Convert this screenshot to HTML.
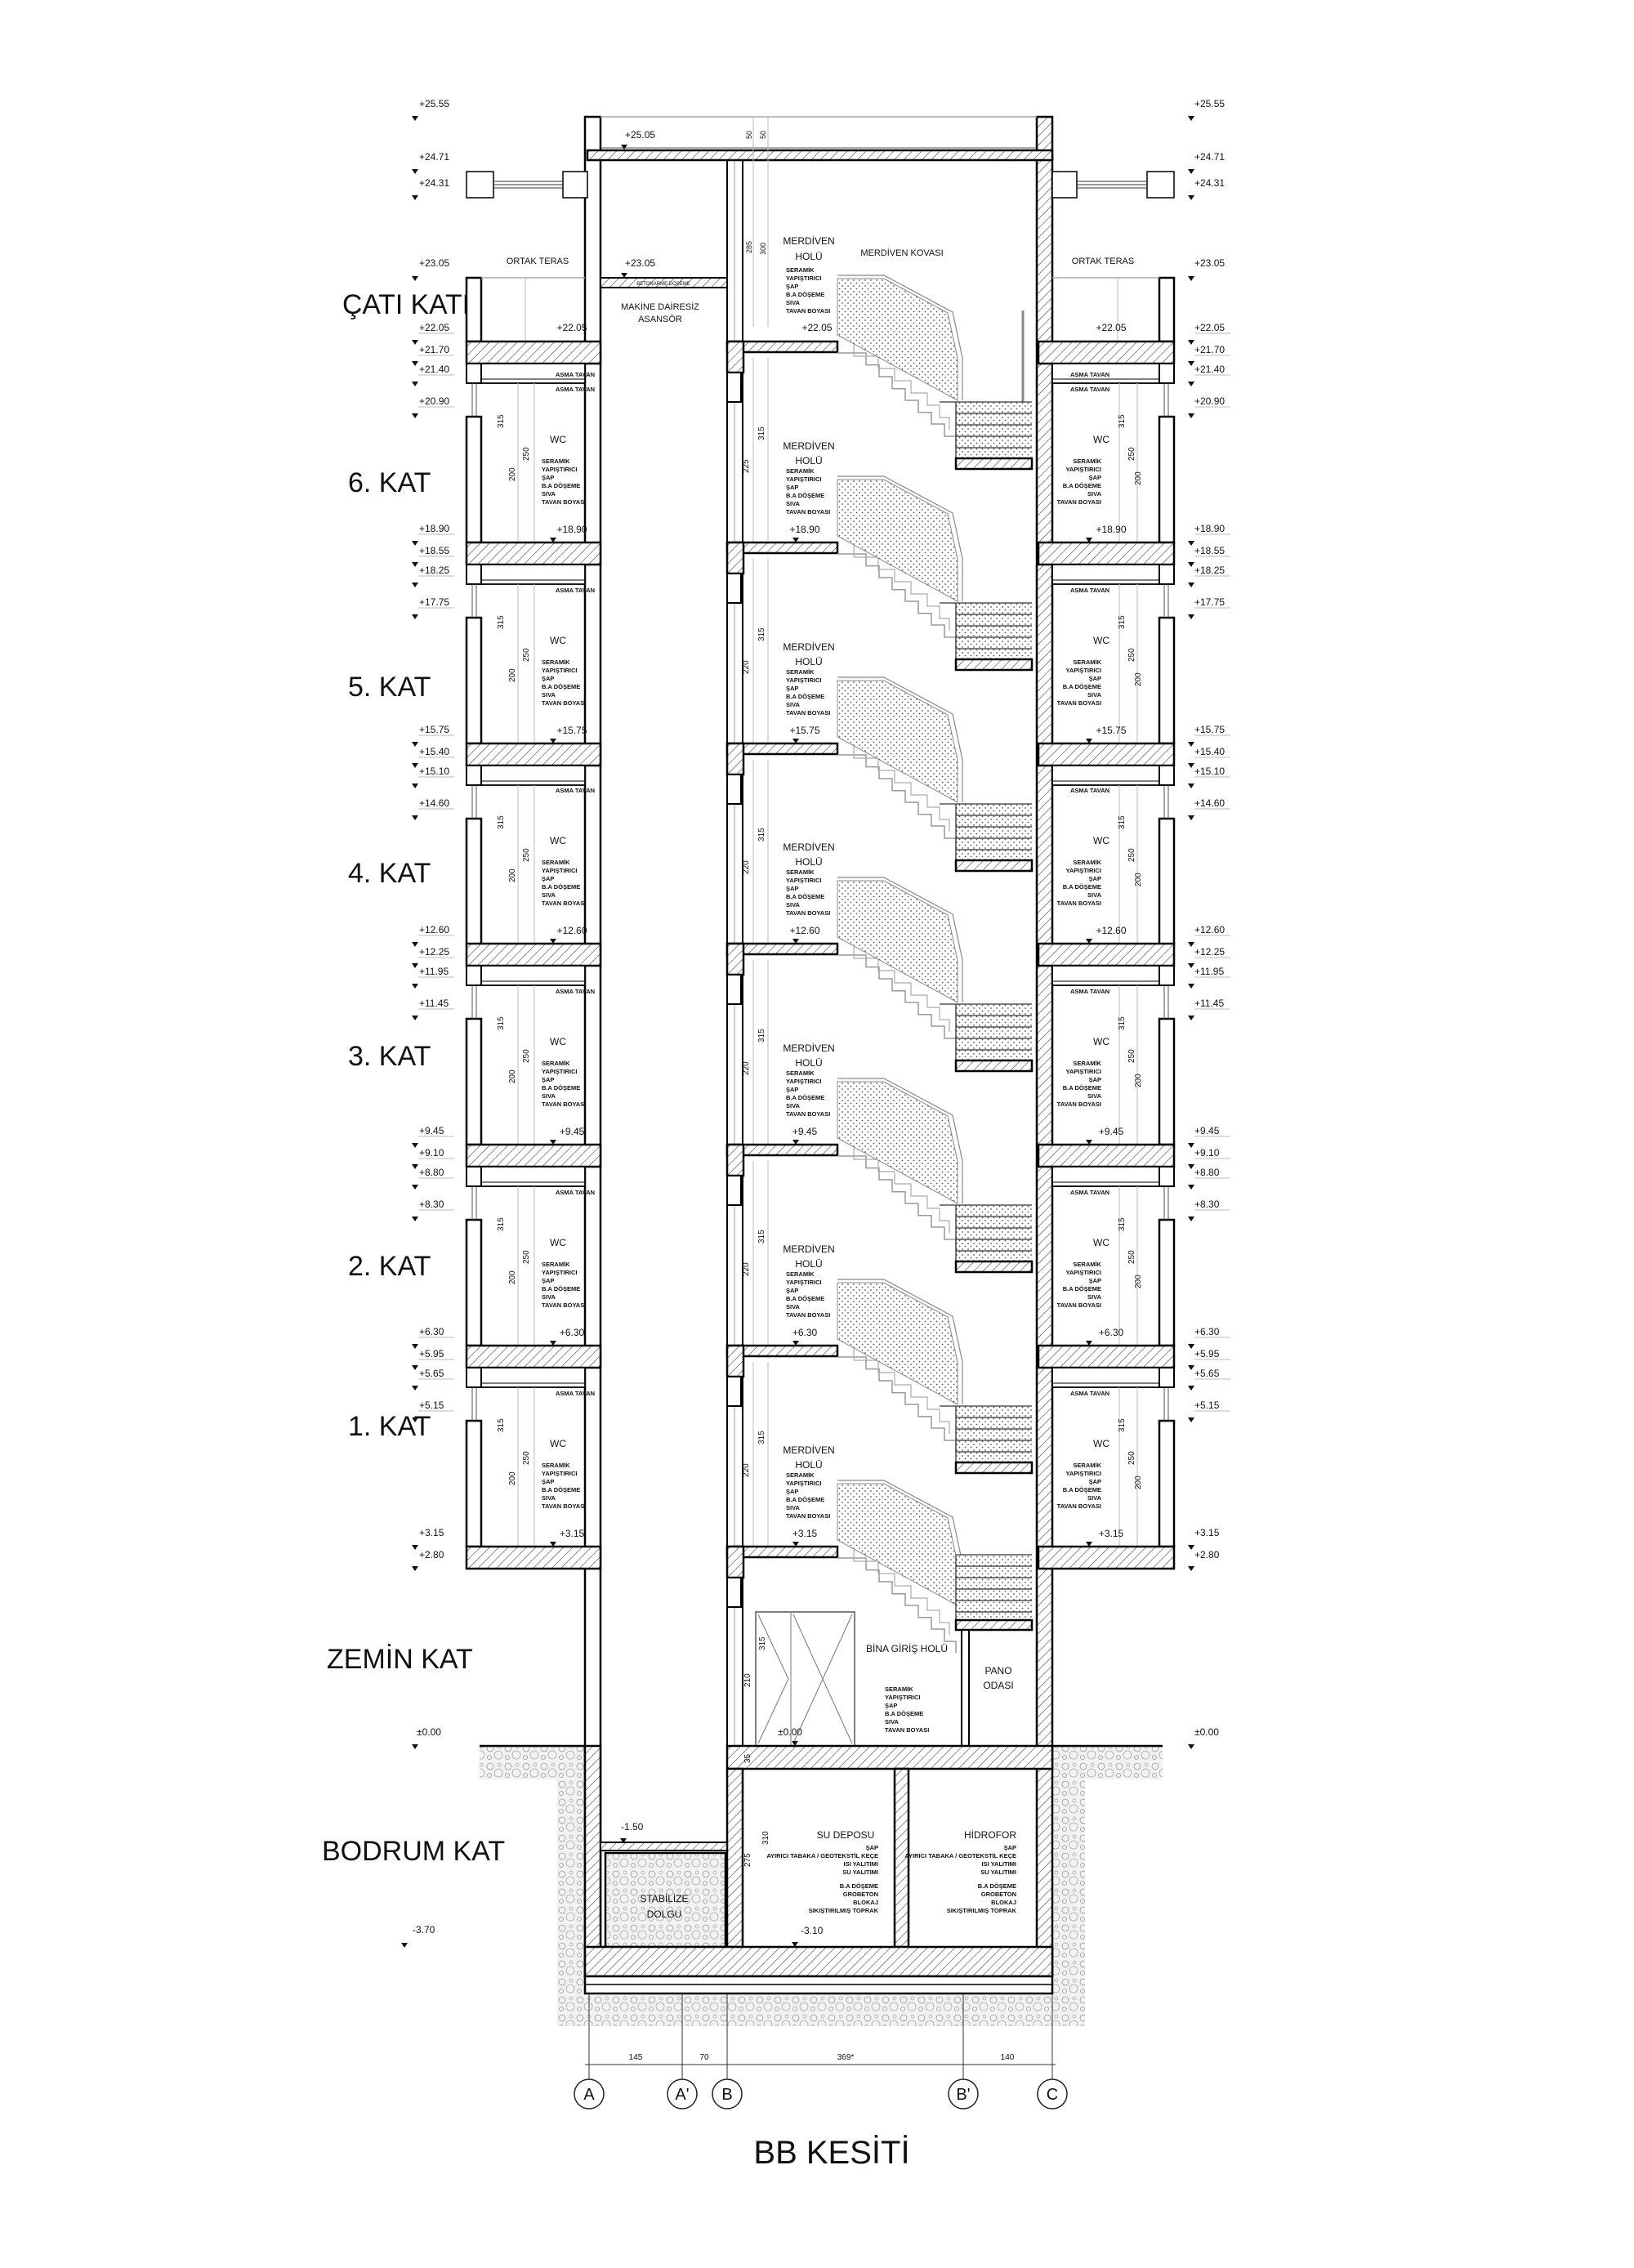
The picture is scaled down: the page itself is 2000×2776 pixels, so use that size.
<!DOCTYPE html>
<html><head><meta charset="utf-8"><style>
html,body{margin:0;padding:0;background:#fff}
svg{display:block}
text{font-family:"Liberation Sans",sans-serif;fill:#111}
.lv{font-size:12px}
.sm{font-size:7.5px;font-weight:bold}
.md{font-size:12px}
.big{font-size:34px}
</style></head><body>
<svg width="2000" height="2776" viewBox="0 0 2000 2776" xmlns="http://www.w3.org/2000/svg">
<defs>
<pattern id="h" width="8" height="8" patternUnits="userSpaceOnUse" patternTransform="rotate(45)"><rect width="8" height="8" fill="#fff"/><line x1="0" y1="0" x2="0" y2="8" stroke="#444" stroke-width="1.2"/></pattern>
<pattern id="dt" width="7" height="7" patternUnits="userSpaceOnUse"><rect width="7" height="7" fill="#fff"/><circle cx="2" cy="2" r="0.9" fill="#555"/><circle cx="5.5" cy="5.5" r="0.9" fill="#555"/></pattern>
<pattern id="soil" width="22" height="22" patternUnits="userSpaceOnUse"><rect width="22" height="22" fill="#f2f2f2"/><circle cx="6" cy="6" r="4" fill="none" stroke="#999" stroke-width="0.8"/><circle cx="16" cy="14" r="5" fill="none" stroke="#aaa" stroke-width="0.8"/><circle cx="5" cy="17" r="2.5" fill="none" stroke="#999" stroke-width="0.8"/><circle cx="17" cy="4" r="2" fill="none" stroke="#aaa" stroke-width="0.8"/></pattern>
<polygon id="tk" points="-4,0 4,0 0,6" fill="#111"/>
<g id="tks">
<use href="#tk" x="508" y="-2"/><use href="#tk" x="508" y="24"/><use href="#tk" x="508" y="49"/><use href="#tk" x="508" y="88"/>
<use href="#tk" x="1458" y="-2"/><use href="#tk" x="1458" y="24"/><use href="#tk" x="1458" y="49"/><use href="#tk" x="1458" y="88"/>
<path d="M512 -10H556M512 17H556M512 41H556M512 80H556M1462 -10H1506M1462 17H1506M1462 41H1506M1462 80H1506" stroke="#bbb" stroke-width="1"/>
</g>
<g id="dots">
<polygon points="1025,-77 1082,-77 1160,-35 1172,20 1172,72 1025,-8" fill="url(#dt)" stroke="#888" stroke-width="1"/>
<path d="M1082,-81 L1166,-36 L1178,20 L1178,72" fill="none" stroke="#888" stroke-width="1.2"/>
<line x1="1025" y1="-81" x2="1082" y2="-81" stroke="#888" stroke-width="1.2"/>
</g>
<g id="core">
<rect x="890" y="0" width="135" height="13" fill="url(#h)" stroke="#000" stroke-width="2.5"/>
<rect x="890" y="0" width="20" height="38" fill="url(#h)" stroke="#000" stroke-width="2.5"/>
<rect x="890" y="38" width="17" height="36" fill="#fff" stroke="#000" stroke-width="2"/>
<polyline points="1025,14 1060,14 1060,28.6 1076,28.6 1076,43 1092,43 1092,57.7 1108,57.7 1108,72 1124,72 1124,86.8 1140,86.8 1140,101 1156,101 1156,116 1170,116 1170,130" fill="none" stroke="#999" stroke-width="1.5"/>
<polyline points="1045,4 1045,18 1075,18 1075,33 1095,33 1095,48 1115,48 1115,63 1135,63 1135,78 1150,78 1150,93 1162,93 1162,108" fill="none" stroke="#aaa" stroke-width="1.2"/>
</g>
<g id="fl">
<rect x="571" y="0" width="164" height="27" fill="url(#h)" stroke="#000" stroke-width="2.5"/>
<rect x="1271" y="0" width="166" height="27" fill="url(#h)" stroke="#000" stroke-width="2.5"/>
<rect x="589" y="27" width="127" height="24" fill="#fff" stroke="#000" stroke-width="1.8"/>
<line x1="589" y1="46" x2="716" y2="46" stroke="#000" stroke-width="1"/>
<rect x="571" y="27" width="18" height="24" fill="#fff" stroke="#000" stroke-width="2"/>
<rect x="571" y="92" width="18" height="154" fill="#fff" stroke="#000" stroke-width="2.5"/>
<path d="M578 51V92M583 51V92" stroke="#555" stroke-width="1"/>
<rect x="1288" y="27" width="131" height="24" fill="#fff" stroke="#000" stroke-width="1.8"/>
<line x1="1288" y1="46" x2="1419" y2="46" stroke="#000" stroke-width="1"/>
<rect x="1419" y="27" width="18" height="24" fill="#fff" stroke="#000" stroke-width="2"/>
<rect x="1419" y="92" width="18" height="154" fill="#fff" stroke="#000" stroke-width="2.5"/>
<path d="M1425 51V92M1430 51V92" stroke="#555" stroke-width="1"/>
<path d="M634 51V246M654 51V246M1370 51V246M1392 51V246M922 20V246M940 20V246" stroke="#bbb" stroke-width="1"/>
<use href="#core"/>
<rect x="1170" y="74" width="93" height="69" fill="url(#dt)" stroke="none"/>
<path d="M1170 74H1263M1170 88H1263M1170 102H1263M1170 116H1263M1170 130H1263M1170 74V143M1150 74H1170" stroke="#333" stroke-width="1.3" fill="none"/>
<rect x="1170" y="143" width="93" height="13" fill="url(#h)" stroke="#000" stroke-width="2.5"/>
</g>
</defs>

<!-- soil -->
<path d="M587 2137H716V2440H1288V2137H1423V2178H1328V2480H682V2178H587Z" fill="url(#soil)" stroke="none"/>
<line x1="587" y1="2137" x2="716" y2="2137" stroke="#000" stroke-width="2.5"/>
<line x1="1288" y1="2137" x2="1423" y2="2137" stroke="#000" stroke-width="2.5"/>

<!-- core walls -->
<rect x="716" y="143" width="19" height="2276" fill="#fff" stroke="#000" stroke-width="2.5"/>
<rect x="716" y="2137" width="19" height="282" fill="url(#h)" stroke="#000" stroke-width="2.5"/>
<rect x="1269" y="143" width="19" height="2276" fill="url(#h)" stroke="#000" stroke-width="2.5"/>
<rect x="890" y="196" width="19" height="1941" fill="#fff" stroke="#000" stroke-width="2"/>
<line x1="899" y1="196" x2="899" y2="2137" stroke="#999" stroke-width="1"/>
<!-- roof -->
<rect x="719" y="184" width="569" height="12" fill="url(#h)" stroke="#000" stroke-width="2.5"/>
<line x1="735" y1="143" x2="1269" y2="143" stroke="#aaa" stroke-width="1.5"/>
<line x1="735" y1="181" x2="1269" y2="181" stroke="#555" stroke-width="1"/>
<rect x="735" y="340" width="155" height="12" fill="url(#h)" stroke="#000" stroke-width="2"/>
<text x="812" y="349" text-anchor="middle" style="font-size:6px">BETONARME DÖŞEME</text>
<!-- roof windows -->
<g fill="#fff" stroke="#000" stroke-width="1.5">
<rect x="571" y="210" width="33" height="32"/><rect x="689" y="210" width="30" height="32"/>
<rect x="1288" y="210" width="30" height="32"/><rect x="1404" y="210" width="33" height="32"/>
</g>
<path d="M604 222H689M604 226H689M604 230H689M1318 222H1404M1318 226H1404M1318 230H1404" stroke="#333" stroke-width="1"/>
<!-- terrace parapets -->
<rect x="571" y="340" width="18" height="78" fill="#fff" stroke="#000" stroke-width="2.5"/>
<rect x="1419" y="340" width="18" height="78" fill="#fff" stroke="#000" stroke-width="2.5"/>
<path d="M589 340H716M1288 340H1419" stroke="#aaa" stroke-width="1.5"/>
<path d="M643 340V418M1368 340V418M922 143V400M940 143V400" stroke="#bbb" stroke-width="1"/>
<g style="font-size:9px"><text transform="translate(920,170) rotate(-90)">50</text><text transform="translate(937,170) rotate(-90)">50</text><text transform="translate(920,310) rotate(-90)">285</text><text transform="translate(937,312) rotate(-90)">300</text></g>
<line x1="1252" y1="380" x2="1252" y2="560" stroke="#888" stroke-width="3"/>

<!-- floors -->
<use href="#fl" y="418"/>
<use href="#fl" y="664"/>
<use href="#fl" y="910"/>
<use href="#fl" y="1155"/>
<use href="#fl" y="1401"/>
<use href="#fl" y="1647"/>
<use href="#dots" y="418"/><use href="#dots" y="664"/><use href="#dots" y="910"/><use href="#dots" y="1155"/><use href="#dots" y="1401"/><use href="#dots" y="1647"/><use href="#dots" y="1893"/>
<!-- slab 6 (2.80) -->
<g transform="translate(0,1893)">
<rect x="571" y="0" width="164" height="27" fill="url(#h)" stroke="#000" stroke-width="2.5"/>
<rect x="1271" y="0" width="166" height="27" fill="url(#h)" stroke="#000" stroke-width="2.5"/>
<use href="#core"/>
<rect x="1170" y="10" width="93" height="80" fill="url(#dt)"/>
<path d="M1170 10H1263M1170 24H1263M1170 38H1263M1170 52H1263M1170 66H1263M1170 80H1263M1170 10V90" stroke="#333" stroke-width="1.3" fill="none"/>
<rect x="1170" y="90" width="93" height="12" fill="url(#h)" stroke="#000" stroke-width="2.5"/>
</g>
<!-- ground floor core -->
<rect x="1177" y="1995" width="9" height="142" fill="#fff" stroke="#000" stroke-width="2"/>
<rect x="925" y="1973" width="121" height="164" fill="none" stroke="#555" stroke-width="1.5"/>
<path d="M968 1973V2137M928 1976L965 2055L928 2134M1043 1976L971 2134M971 1976L1043 2134" stroke="#777" stroke-width="1" fill="none"/>
<rect x="890" y="2137" width="398" height="28" fill="url(#h)" stroke="#000" stroke-width="2.5"/>
<!-- basement -->
<rect x="890" y="2165" width="19" height="218" fill="url(#h)" stroke="#000" stroke-width="2.5"/>
<rect x="1095" y="2165" width="17" height="218" fill="url(#h)" stroke="#000" stroke-width="2.5"/>
<rect x="735" y="2255" width="155" height="10" fill="url(#h)" stroke="#000" stroke-width="2"/>
<rect x="741" y="2268" width="147" height="115" fill="url(#soil)" stroke="#000" stroke-width="2.5"/>
<rect x="716" y="2383" width="572" height="36" fill="url(#h)" stroke="#000" stroke-width="2.5"/>
<rect x="716" y="2419" width="572" height="21" fill="#fff" stroke="#000" stroke-width="2.5"/>
<line x1="716" y1="2429" x2="1288" y2="2429" stroke="#000" stroke-width="1.5"/>

<!-- level labels -->
<g class="lv">
<text x="513" y="131">+25.55</text><text x="1462" y="131">+25.55</text>
<text x="513" y="196">+24.71</text><text x="1462" y="196">+24.71</text>
<text x="513" y="228">+24.31</text><text x="1462" y="228">+24.31</text>
<text x="513" y="326">+23.05</text><text x="1462" y="326">+23.05</text>
<use href="#tk" x="508" y="142"/><use href="#tk" x="508" y="207"/><use href="#tk" x="508" y="239"/><use href="#tk" x="508" y="338"/>
<use href="#tk" x="1458" y="142"/><use href="#tk" x="1458" y="207"/><use href="#tk" x="1458" y="239"/><use href="#tk" x="1458" y="338"/>
<g transform="translate(0,418)"><use href="#tks"/><text x="513" y="-13">+22.05</text><text x="513" y="14">+21.70</text><text x="513" y="38">+21.40</text><text x="513" y="77">+20.90</text><text x="1462" y="-13">+22.05</text><text x="1462" y="14">+21.70</text><text x="1462" y="38">+21.40</text><text x="1462" y="77">+20.90</text></g>
<g transform="translate(0,664)"><use href="#tks"/><text x="513" y="-13">+18.90</text><text x="513" y="14">+18.55</text><text x="513" y="38">+18.25</text><text x="513" y="77">+17.75</text><text x="1462" y="-13">+18.90</text><text x="1462" y="14">+18.55</text><text x="1462" y="38">+18.25</text><text x="1462" y="77">+17.75</text></g>
<g transform="translate(0,910)"><use href="#tks"/><text x="513" y="-13">+15.75</text><text x="513" y="14">+15.40</text><text x="513" y="38">+15.10</text><text x="513" y="77">+14.60</text><text x="1462" y="-13">+15.75</text><text x="1462" y="14">+15.40</text><text x="1462" y="38">+15.10</text><text x="1462" y="77">+14.60</text></g>
<g transform="translate(0,1155)"><use href="#tks"/><text x="513" y="-13">+12.60</text><text x="513" y="14">+12.25</text><text x="513" y="38">+11.95</text><text x="513" y="77">+11.45</text><text x="1462" y="-13">+12.60</text><text x="1462" y="14">+12.25</text><text x="1462" y="38">+11.95</text><text x="1462" y="77">+11.45</text></g>
<g transform="translate(0,1401)"><use href="#tks"/><text x="513" y="-13">+9.45</text><text x="513" y="14">+9.10</text><text x="513" y="38">+8.80</text><text x="513" y="77">+8.30</text><text x="1462" y="-13">+9.45</text><text x="1462" y="14">+9.10</text><text x="1462" y="38">+8.80</text><text x="1462" y="77">+8.30</text></g>
<g transform="translate(0,1647)"><use href="#tks"/><text x="513" y="-13">+6.30</text><text x="513" y="14">+5.95</text><text x="513" y="38">+5.65</text><text x="513" y="77">+5.15</text><text x="1462" y="-13">+6.30</text><text x="1462" y="14">+5.95</text><text x="1462" y="38">+5.65</text><text x="1462" y="77">+5.15</text></g>
<g transform="translate(0,1893)"><text x="513" y="-13">+3.15</text><text x="513" y="14">+2.80</text><text x="1462" y="-13">+3.15</text><text x="1462" y="14">+2.80</text>
<use href="#tk" x="508" y="-2"/><use href="#tk" x="508" y="24"/><use href="#tk" x="1458" y="-2"/><use href="#tk" x="1458" y="24"/></g>
<text x="510" y="2124">±0.00</text><text x="1462" y="2124">±0.00</text>
<use href="#tk" x="508" y="2135"/><use href="#tk" x="1458" y="2135"/>
<text x="505" y="2366">-3.70</text><use href="#tk" x="495" y="2378"/>
<text x="760" y="2240">-1.50</text><use href="#tk" x="763" y="2250"/>
<text x="980" y="2367">-3.10</text><use href="#tk" x="973" y="2377"/>
<text x="952" y="2124">±0.00</text><use href="#tk" x="973" y="2131"/>
<text x="765" y="169">+25.05</text><use href="#tk" x="764" y="177"/>
<text x="765" y="326">+23.05</text><use href="#tk" x="764" y="334"/>
</g>

<!-- floor names -->
<g class="big">
<text x="419" y="384" textLength="156" lengthAdjust="spacingAndGlyphs">ÇATI KATI</text>
<text x="426" y="602">6. KAT</text>
<text x="426" y="852">5. KAT</text>
<text x="426" y="1080">4. KAT</text>
<text x="426" y="1304">3. KAT</text>
<text x="426" y="1561">2. KAT</text>
<text x="426" y="1757">1. KAT</text>
<text x="400" y="2042">ZEMİN KAT</text>
<text x="394" y="2277">BODRUM KAT</text>
</g>
<text x="1018" y="2648" text-anchor="middle" style="font-size:40px">BB KESİTİ</text>

<!-- top texts -->
<g class="md">
<text x="658" y="323" text-anchor="middle" style="font-size:11px">ORTAK TERAS</text>
<text x="1350" y="323" text-anchor="middle" style="font-size:11px">ORTAK TERAS</text>
<text x="808" y="379" text-anchor="middle" style="font-size:11px">MAKİNE DAİRESİZ</text>
<text x="808" y="394" text-anchor="middle" style="font-size:11px">ASANSÖR</text>
<text x="1104" y="313" text-anchor="middle" style="font-size:11px">MERDİVEN KOVASI</text>
<text x="990" y="299" text-anchor="middle">MERDİVEN</text>
<text x="990" y="318" text-anchor="middle">HOLÜ</text>
<text x="700" y="405" text-anchor="middle">+22.05</text>
<text x="1000" y="405" text-anchor="middle">+22.05</text>
<text x="1360" y="405" text-anchor="middle">+22.05</text>
</g>
<g class="sm">
<text x="962" y="333">SERAMİK</text><text x="962" y="343">YAPIŞTIRICI</text><text x="962" y="353">ŞAP</text><text x="962" y="363">B.A DÖŞEME</text><text x="962" y="373">SIVA</text><text x="962" y="383">TAVAN BOYASI</text>
<text x="680" y="461">ASMA TAVAN</text><text x="1310" y="461">ASMA TAVAN</text>
</g>

<!-- per floor texts -->
<g transform="translate(0,664)">
<text x="673" y="-122" class="md">WC</text>
<text x="1338" y="-122" class="md">WC</text>
<text x="990" y="-114" class="md" text-anchor="middle">MERDİVEN</text>
<text x="990" y="-96" class="md" text-anchor="middle">HOLÜ</text>
<g class="sm"><text x="663" y="-97">SERAMİK</text><text x="663" y="-87">YAPIŞTIRICI</text><text x="663" y="-77">ŞAP</text><text x="663" y="-67">B.A DÖŞEME</text><text x="663" y="-57">SIVA</text><text x="663" y="-47">TAVAN BOYASI</text>
<g text-anchor="end"><text x="1348" y="-97">SERAMİK</text><text x="1348" y="-87">YAPIŞTIRICI</text><text x="1348" y="-77">ŞAP</text><text x="1348" y="-67">B.A DÖŞEME</text><text x="1348" y="-57">SIVA</text><text x="1348" y="-47">TAVAN BOYASI</text></g>
<text x="962" y="-85">SERAMİK</text><text x="962" y="-75">YAPIŞTIRICI</text><text x="962" y="-65">ŞAP</text><text x="962" y="-55">B.A DÖŞEME</text><text x="962" y="-45">SIVA</text><text x="962" y="-35">TAVAN BOYASI</text>
<text x="680" y="-185">ASMA TAVAN</text><text x="1310" y="-185">ASMA TAVAN</text></g>
<text x="700" y="-12" class="md" text-anchor="middle">+18.90</text><text x="985" y="-12" class="md" text-anchor="middle">+18.90</text><text x="1360" y="-12" class="md" text-anchor="middle">+18.90</text>
<g style="font-size:10px"><text transform="translate(616,-140) rotate(-90)">315</text><text transform="translate(647,-100) rotate(-90)">250</text><text transform="translate(630,-75) rotate(-90)">200</text><text transform="translate(1376,-140) rotate(-90)">315</text><text transform="translate(1388,-100) rotate(-90)">250</text><text transform="translate(1396,-70) rotate(-90)">200</text><text transform="translate(935,-125) rotate(-90)">315</text><text transform="translate(916,-85) rotate(-90)">225</text></g>
<use href="#tk" x="677" y="-6"/><use href="#tk" x="974" y="-6"/><use href="#tk" x="1333" y="-6"/>
</g>
<g transform="translate(0,910)">
<text x="673" y="-122" class="md">WC</text><text x="1338" y="-122" class="md">WC</text>
<text x="990" y="-114" class="md" text-anchor="middle">MERDİVEN</text><text x="990" y="-96" class="md" text-anchor="middle">HOLÜ</text>
<g class="sm"><text x="663" y="-97">SERAMİK</text><text x="663" y="-87">YAPIŞTIRICI</text><text x="663" y="-77">ŞAP</text><text x="663" y="-67">B.A DÖŞEME</text><text x="663" y="-57">SIVA</text><text x="663" y="-47">TAVAN BOYASI</text>
<g text-anchor="end"><text x="1348" y="-97">SERAMİK</text><text x="1348" y="-87">YAPIŞTIRICI</text><text x="1348" y="-77">ŞAP</text><text x="1348" y="-67">B.A DÖŞEME</text><text x="1348" y="-57">SIVA</text><text x="1348" y="-47">TAVAN BOYASI</text></g>
<text x="962" y="-85">SERAMİK</text><text x="962" y="-75">YAPIŞTIRICI</text><text x="962" y="-65">ŞAP</text><text x="962" y="-55">B.A DÖŞEME</text><text x="962" y="-45">SIVA</text><text x="962" y="-35">TAVAN BOYASI</text>
<text x="680" y="-185">ASMA TAVAN</text><text x="1310" y="-185">ASMA TAVAN</text></g>
<text x="700" y="-12" class="md" text-anchor="middle">+15.75</text><text x="985" y="-12" class="md" text-anchor="middle">+15.75</text><text x="1360" y="-12" class="md" text-anchor="middle">+15.75</text>
<g style="font-size:10px"><text transform="translate(616,-140) rotate(-90)">315</text><text transform="translate(647,-100) rotate(-90)">250</text><text transform="translate(630,-75) rotate(-90)">200</text><text transform="translate(1376,-140) rotate(-90)">315</text><text transform="translate(1388,-100) rotate(-90)">250</text><text transform="translate(1396,-70) rotate(-90)">200</text><text transform="translate(935,-125) rotate(-90)">315</text><text transform="translate(916,-85) rotate(-90)">220</text></g>
<use href="#tk" x="677" y="-6"/><use href="#tk" x="974" y="-6"/><use href="#tk" x="1333" y="-6"/>
</g>
<g transform="translate(0,1155)">
<text x="673" y="-122" class="md">WC</text><text x="1338" y="-122" class="md">WC</text>
<text x="990" y="-114" class="md" text-anchor="middle">MERDİVEN</text><text x="990" y="-96" class="md" text-anchor="middle">HOLÜ</text>
<g class="sm"><text x="663" y="-97">SERAMİK</text><text x="663" y="-87">YAPIŞTIRICI</text><text x="663" y="-77">ŞAP</text><text x="663" y="-67">B.A DÖŞEME</text><text x="663" y="-57">SIVA</text><text x="663" y="-47">TAVAN BOYASI</text>
<g text-anchor="end"><text x="1348" y="-97">SERAMİK</text><text x="1348" y="-87">YAPIŞTIRICI</text><text x="1348" y="-77">ŞAP</text><text x="1348" y="-67">B.A DÖŞEME</text><text x="1348" y="-57">SIVA</text><text x="1348" y="-47">TAVAN BOYASI</text></g>
<text x="962" y="-85">SERAMİK</text><text x="962" y="-75">YAPIŞTIRICI</text><text x="962" y="-65">ŞAP</text><text x="962" y="-55">B.A DÖŞEME</text><text x="962" y="-45">SIVA</text><text x="962" y="-35">TAVAN BOYASI</text>
<text x="680" y="-185">ASMA TAVAN</text><text x="1310" y="-185">ASMA TAVAN</text></g>
<text x="700" y="-12" class="md" text-anchor="middle">+12.60</text><text x="985" y="-12" class="md" text-anchor="middle">+12.60</text><text x="1360" y="-12" class="md" text-anchor="middle">+12.60</text>
<g style="font-size:10px"><text transform="translate(616,-140) rotate(-90)">315</text><text transform="translate(647,-100) rotate(-90)">250</text><text transform="translate(630,-75) rotate(-90)">200</text><text transform="translate(1376,-140) rotate(-90)">315</text><text transform="translate(1388,-100) rotate(-90)">250</text><text transform="translate(1396,-70) rotate(-90)">200</text><text transform="translate(935,-125) rotate(-90)">315</text><text transform="translate(916,-85) rotate(-90)">220</text></g>
<use href="#tk" x="677" y="-6"/><use href="#tk" x="974" y="-6"/><use href="#tk" x="1333" y="-6"/>
</g>
<g transform="translate(0,1401)">
<text x="673" y="-122" class="md">WC</text><text x="1338" y="-122" class="md">WC</text>
<text x="990" y="-114" class="md" text-anchor="middle">MERDİVEN</text><text x="990" y="-96" class="md" text-anchor="middle">HOLÜ</text>
<g class="sm"><text x="663" y="-97">SERAMİK</text><text x="663" y="-87">YAPIŞTIRICI</text><text x="663" y="-77">ŞAP</text><text x="663" y="-67">B.A DÖŞEME</text><text x="663" y="-57">SIVA</text><text x="663" y="-47">TAVAN BOYASI</text>
<g text-anchor="end"><text x="1348" y="-97">SERAMİK</text><text x="1348" y="-87">YAPIŞTIRICI</text><text x="1348" y="-77">ŞAP</text><text x="1348" y="-67">B.A DÖŞEME</text><text x="1348" y="-57">SIVA</text><text x="1348" y="-47">TAVAN BOYASI</text></g>
<text x="962" y="-85">SERAMİK</text><text x="962" y="-75">YAPIŞTIRICI</text><text x="962" y="-65">ŞAP</text><text x="962" y="-55">B.A DÖŞEME</text><text x="962" y="-45">SIVA</text><text x="962" y="-35">TAVAN BOYASI</text>
<text x="680" y="-185">ASMA TAVAN</text><text x="1310" y="-185">ASMA TAVAN</text></g>
<text x="700" y="-12" class="md" text-anchor="middle">+9.45</text><text x="985" y="-12" class="md" text-anchor="middle">+9.45</text><text x="1360" y="-12" class="md" text-anchor="middle">+9.45</text>
<g style="font-size:10px"><text transform="translate(616,-140) rotate(-90)">315</text><text transform="translate(647,-100) rotate(-90)">250</text><text transform="translate(630,-75) rotate(-90)">200</text><text transform="translate(1376,-140) rotate(-90)">315</text><text transform="translate(1388,-100) rotate(-90)">250</text><text transform="translate(1396,-70) rotate(-90)">200</text><text transform="translate(935,-125) rotate(-90)">315</text><text transform="translate(916,-85) rotate(-90)">220</text></g>
<use href="#tk" x="677" y="-6"/><use href="#tk" x="974" y="-6"/><use href="#tk" x="1333" y="-6"/>
</g>
<g transform="translate(0,1647)">
<text x="673" y="-122" class="md">WC</text><text x="1338" y="-122" class="md">WC</text>
<text x="990" y="-114" class="md" text-anchor="middle">MERDİVEN</text><text x="990" y="-96" class="md" text-anchor="middle">HOLÜ</text>
<g class="sm"><text x="663" y="-97">SERAMİK</text><text x="663" y="-87">YAPIŞTIRICI</text><text x="663" y="-77">ŞAP</text><text x="663" y="-67">B.A DÖŞEME</text><text x="663" y="-57">SIVA</text><text x="663" y="-47">TAVAN BOYASI</text>
<g text-anchor="end"><text x="1348" y="-97">SERAMİK</text><text x="1348" y="-87">YAPIŞTIRICI</text><text x="1348" y="-77">ŞAP</text><text x="1348" y="-67">B.A DÖŞEME</text><text x="1348" y="-57">SIVA</text><text x="1348" y="-47">TAVAN BOYASI</text></g>
<text x="962" y="-85">SERAMİK</text><text x="962" y="-75">YAPIŞTIRICI</text><text x="962" y="-65">ŞAP</text><text x="962" y="-55">B.A DÖŞEME</text><text x="962" y="-45">SIVA</text><text x="962" y="-35">TAVAN BOYASI</text>
<text x="680" y="-185">ASMA TAVAN</text><text x="1310" y="-185">ASMA TAVAN</text></g>
<text x="700" y="-12" class="md" text-anchor="middle">+6.30</text><text x="985" y="-12" class="md" text-anchor="middle">+6.30</text><text x="1360" y="-12" class="md" text-anchor="middle">+6.30</text>
<g style="font-size:10px"><text transform="translate(616,-140) rotate(-90)">315</text><text transform="translate(647,-100) rotate(-90)">250</text><text transform="translate(630,-75) rotate(-90)">200</text><text transform="translate(1376,-140) rotate(-90)">315</text><text transform="translate(1388,-100) rotate(-90)">250</text><text transform="translate(1396,-70) rotate(-90)">200</text><text transform="translate(935,-125) rotate(-90)">315</text><text transform="translate(916,-85) rotate(-90)">220</text></g>
<use href="#tk" x="677" y="-6"/><use href="#tk" x="974" y="-6"/><use href="#tk" x="1333" y="-6"/>
</g>
<g transform="translate(0,1893)">
<text x="673" y="-122" class="md">WC</text><text x="1338" y="-122" class="md">WC</text>
<text x="990" y="-114" class="md" text-anchor="middle">MERDİVEN</text><text x="990" y="-96" class="md" text-anchor="middle">HOLÜ</text>
<g class="sm"><text x="663" y="-97">SERAMİK</text><text x="663" y="-87">YAPIŞTIRICI</text><text x="663" y="-77">ŞAP</text><text x="663" y="-67">B.A DÖŞEME</text><text x="663" y="-57">SIVA</text><text x="663" y="-47">TAVAN BOYASI</text>
<g text-anchor="end"><text x="1348" y="-97">SERAMİK</text><text x="1348" y="-87">YAPIŞTIRICI</text><text x="1348" y="-77">ŞAP</text><text x="1348" y="-67">B.A DÖŞEME</text><text x="1348" y="-57">SIVA</text><text x="1348" y="-47">TAVAN BOYASI</text></g>
<text x="962" y="-85">SERAMİK</text><text x="962" y="-75">YAPIŞTIRICI</text><text x="962" y="-65">ŞAP</text><text x="962" y="-55">B.A DÖŞEME</text><text x="962" y="-45">SIVA</text><text x="962" y="-35">TAVAN BOYASI</text>
<text x="680" y="-185">ASMA TAVAN</text><text x="1310" y="-185">ASMA TAVAN</text></g>
<text x="700" y="-12" class="md" text-anchor="middle">+3.15</text><text x="985" y="-12" class="md" text-anchor="middle">+3.15</text><text x="1360" y="-12" class="md" text-anchor="middle">+3.15</text>
<g style="font-size:10px"><text transform="translate(616,-140) rotate(-90)">315</text><text transform="translate(647,-100) rotate(-90)">250</text><text transform="translate(630,-75) rotate(-90)">200</text><text transform="translate(1376,-140) rotate(-90)">315</text><text transform="translate(1388,-100) rotate(-90)">250</text><text transform="translate(1396,-70) rotate(-90)">200</text><text transform="translate(935,-125) rotate(-90)">315</text><text transform="translate(916,-85) rotate(-90)">220</text></g>
<use href="#tk" x="677" y="-6"/><use href="#tk" x="974" y="-6"/><use href="#tk" x="1333" y="-6"/>
</g>

<!-- ground floor & basement texts -->
<text x="1110" y="2022" class="md" text-anchor="middle">BİNA GİRİŞ HOLÜ</text>
<text x="1222" y="2049" class="md" text-anchor="middle">PANO</text>
<text x="1222" y="2067" class="md" text-anchor="middle">ODASI</text>
<g class="sm"><text x="1083" y="2070">SERAMİK</text><text x="1083" y="2080">YAPIŞTIRICI</text><text x="1083" y="2090">ŞAP</text><text x="1083" y="2100">B.A DÖŞEME</text><text x="1083" y="2110">SIVA</text><text x="1083" y="2120">TAVAN BOYASI</text></g>
<g style="font-size:10px"><text transform="translate(936,2020) rotate(-90)">315</text><text transform="translate(918,2065) rotate(-90)">210</text><text transform="translate(918,2158) rotate(-90)">35</text><text transform="translate(918,2285) rotate(-90)">275</text><text transform="translate(940,2258) rotate(-90)">310</text></g>
<text x="1035" y="2250" class="md" text-anchor="middle">SU DEPOSU</text>
<text x="1212" y="2250" class="md" text-anchor="middle">HİDROFOR</text>
<g class="sm" text-anchor="end">
<text x="1075" y="2264">ŞAP</text><text x="1075" y="2274">AYIRICI TABAKA / GEOTEKSTİL KEÇE</text><text x="1075" y="2284">ISI YALITIMI</text><text x="1075" y="2294">SU YALITIMI</text><text x="1075" y="2311">B.A DÖŞEME</text><text x="1075" y="2321">GROBETON</text><text x="1075" y="2331">BLOKAJ</text><text x="1075" y="2341">SIKIŞTIRILMIŞ TOPRAK</text>
<text x="1244" y="2264">ŞAP</text><text x="1244" y="2274">AYIRICI TABAKA / GEOTEKSTİL KEÇE</text><text x="1244" y="2284">ISI YALITIMI</text><text x="1244" y="2294">SU YALITIMI</text><text x="1244" y="2311">B.A DÖŞEME</text><text x="1244" y="2321">GROBETON</text><text x="1244" y="2331">BLOKAJ</text><text x="1244" y="2341">SIKIŞTIRILMIŞ TOPRAK</text>
</g>
<text x="813" y="2328" class="md" text-anchor="middle">STABİLİZE</text>
<text x="813" y="2347" class="md" text-anchor="middle">DOLGU</text>

<!-- grid -->
<g stroke="#333" stroke-width="1">
<path d="M721 2440V2545M835 2440V2545M890 2440V2545M1179 2440V2545M1288 2440V2545M716 2527H1292"/>
</g>
<g style="font-size:10px" text-anchor="middle"><text x="778" y="2521">145</text><text x="862" y="2521">70</text><text x="1035" y="2521">369*</text><text x="1233" y="2521">140</text></g>
<g fill="#fff" stroke="#222" stroke-width="1.5">
<ellipse cx="721" cy="2563" rx="18" ry="18"/><ellipse cx="835" cy="2563" rx="18" ry="18"/><ellipse cx="890" cy="2563" rx="18" ry="18"/><ellipse cx="1179" cy="2563" rx="18" ry="18"/><ellipse cx="1288" cy="2563" rx="18" ry="18"/>
</g>
<g style="font-size:20px" text-anchor="middle"><text x="721" y="2570">A</text><text x="835" y="2570">A'</text><text x="890" y="2570">B</text><text x="1179" y="2570">B'</text><text x="1288" y="2570">C</text></g>
</svg>
</body></html>
